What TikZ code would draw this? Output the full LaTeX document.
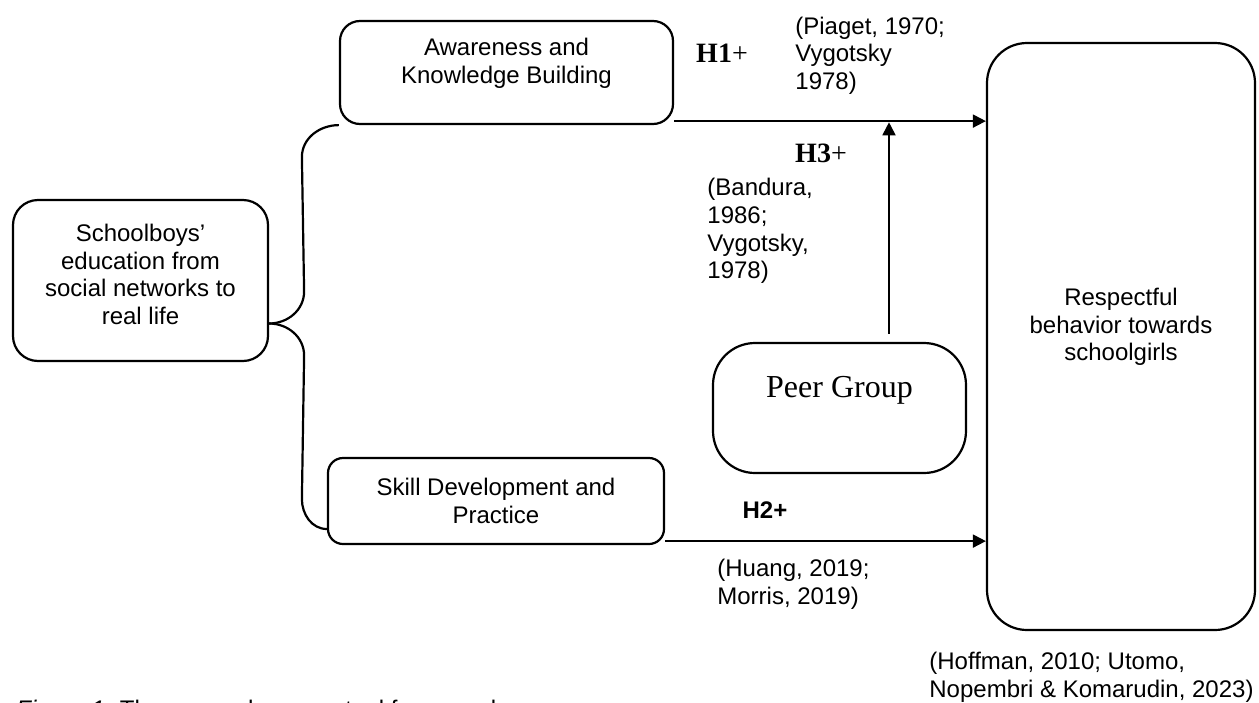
\documentclass[tikz,border=0pt]{standalone}
\usepackage{fontspec}
\setmainfont{Liberation Sans}
\newfontfamily\timesfont{Liberation Serif}
\usetikzlibrary{arrows.meta, positioning, calc}

\begin{document}
\begin{tikzpicture}[
    x=0.5pt, y=-0.5pt,
    font=\fontsize{12}{13.8}\selectfont,
    box/.style={draw, line width=1.1pt, rounded corners=8pt, inner sep=0pt},
    boxtext/.style={align=center, inner sep=0pt},
    cite/.style={align=left, anchor=west, inner sep=0pt},
    hyp/.style={inner sep=0pt, font=\timesfont\fontsize{14}{16}\selectfont},
    arrow/.style={-{Triangle[length=6.5pt, width=6.5pt]}, line width=0.9pt},
    brace/.style={line width=1.1pt}
]
    \useasboundingbox (0,0) rectangle (1259,702);

    % Boxes
    \node[box, rounded corners=12.5pt, minimum width=127.5pt, minimum height=80.5pt] (school) at (140.5,280.5) {};
    \node[boxtext] (schooltext) at ($(school.center)+(0,-6)$) {Schoolboys’\\education from\\social networks to\\real life};
    \node[box, rounded corners=10pt, minimum width=166.5pt, minimum height=51.5pt] (aware) at (506.5,72.5) {};
    \node[boxtext] (awaretext) at ($(aware.center)+(0,-9.5)$) {Awareness and\\Knowledge Building};
    \node[box, rounded corners=7.5pt, minimum width=168pt, minimum height=43pt, boxtext] (skill) at (496,501)
        {Skill Development and\\Practice};
    \node[box, rounded corners=21pt, minimum width=126.5pt, minimum height=65pt] (peer) at (839.5,408) {};
    \node[boxtext, font=\timesfont\fontsize{16}{18}\selectfont] (peertext) at ($(peer.center)+(0,-18)$) {Peer Group};
    \node[box, rounded corners=20pt, minimum width=134pt, minimum height=293.5pt] (behav) at (1121,336.5) {};
    \node[boxtext] (behavtext) at ($(behav.center)+(0,-9.5)$) {Respectful\\behavior towards\\schoolgirls};

    % Brace from the left box
    \coordinate (brmid) at ($(school.east)+(0,43)$);
    \draw[brace] (aware.south west) to[out=180, in=90] ++(-37,32) -- ($(brmid)+(35,-32)$)
        to[out=-90, in=0] (brmid);
    \draw[brace] (brmid) to[out=0, in=90] ++(35,32) -- ($(skill.west)+(-25,-2)$)
        to[out=-90, in=180] ($(skill.west)+(0,28)$);

    % Arrows
    \coordinate (h1a) at ($(aware.south east)+(0,-4)$);
    \coordinate (h2a) at ($(skill.south east)+(0,-4)$);
    \coordinate (h3a) at ($(peer.north)+(49.5,-8)$);
    \draw[arrow] (h1a) -- (h1a -| behav.west);
    \draw[arrow] (h2a) -- (h2a -| behav.west);
    \draw[arrow, shorten >=0.6pt] (h3a) -- (h3a |- h1a);

    % Hypotheses and sources
    \node[hyp] (h1) at (722,53) {\textbf{H1}+};
    \node[hyp] (h3) at (821,153) {\textbf{H3}+};
    \node[inner sep=0pt] (h2) at (765,510) {\textbf{H2+}};
    \node[cite] (src1) at (795,55.5) {(Piaget, 1970;\\Vygotsky\\1978)};
    \node[cite] (src3) at (707,231) {(Bandura,\\1986;\\Vygotsky,\\1978)};
    \node[cite] (src2) at (717,584.5) {(Huang, 2019;\\Morris, 2019)};
    \node[cite] (src4) at (929,677.5) {(Hoffman, 2010; Utomo,\\Nopembri \& Komarudin, 2023)};

    % Caption (cut by the page edge)
    \node[anchor=base west, inner sep=0pt] (caption) at (16,717) {\textit{Figure 1.} The research conceptual framework};

\end{tikzpicture}
\end{document}
